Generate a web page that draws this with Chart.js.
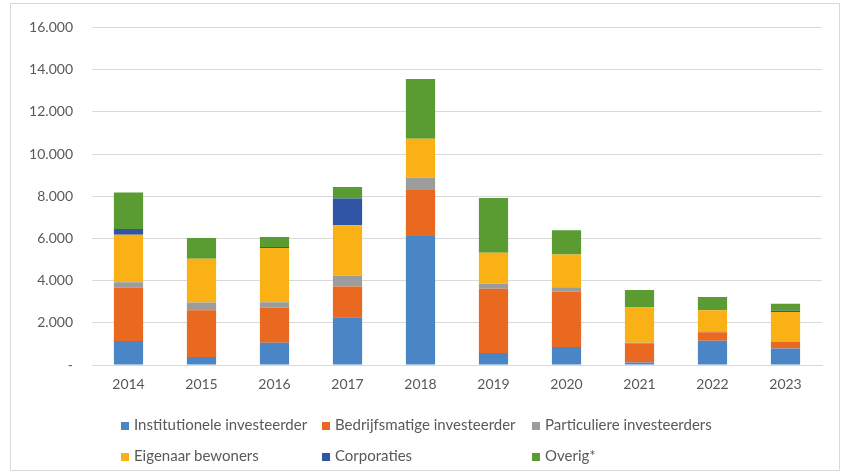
<!DOCTYPE html>
<html>
<head>
<meta charset="utf-8">
<script src="https://cdn.jsdelivr.net/npm/chart.js@4.4.1/dist/chart.umd.min.js"></script>
<style>
  html, body { margin: 0; padding: 0; background: #fff; }
  #wrap { position: relative; width: 844px; height: 474px; overflow: hidden; }
  #frame { position: absolute; left: 10px; top: 3px; width: 830px; height: 468px; border: 1px solid #D9D9D9; box-sizing: border-box; pointer-events: none; }
  canvas { position: absolute; left: 0; top: 0; }
  .lg { position: absolute; font-family: Lato, "Open Sans", sans-serif; font-size: 15px; color: #595959; white-space: nowrap; line-height: 16px; }
  .lg i { display: inline-block; width: 8px; height: 8px; margin-right: 5px; vertical-align: 0px; }
</style>
</head>
<body>
<div id="wrap">
  <canvas id="c" width="844" height="474"></canvas>
  <div id="frame"></div>
  <div id="legend"></div>
</div>
<script>
const years = ['2014','2015','2016','2017','2018','2019','2020','2021','2022','2023'];
const institutioneel = [1140, 380, 1060, 2260, 6110, 570, 850, 120, 1150, 780];
const bedrijfsmatig  = [2530, 2215, 1665, 1460, 2220, 3040, 2620, 870, 400, 320];
const particulier    = [250, 365, 250, 510, 540, 240, 220, 60, 50, 30];
const eigenaar       = [2250, 2080, 2570, 2390, 1850, 1470, 1550, 1670, 1000, 1380];
const corporaties    = [270, 0, 50, 1270, 0, 0, 0, 0, 0, 60];
const overig         = [1730, 980, 470, 550, 2840, 2600, 1150, 835, 620, 330];
const seriesLabels = ['Institutionele investeerder','Bedrijfsmatige investeerder','Particuliere investeerders','Eigenaar bewoners','Corporaties','Overig*'];
const yTicks = [0, 2000, 4000, 6000, 8000, 10000, 12000, 14000, 16000];

const colors = ['#4A86C6','#E8691F','#9C9C9C','#F9B115','#2F55A4','#5A9C32'];
const seriesData = [institutioneel, bedrijfsmatig, particulier, eigenaar, corporaties, overig];

function fmt(v) {
  if (v === 0) return '-';
  return String(v).replace(/\B(?=(\d{3})+(?!\d))/g, '.');
}

const font = { family: 'Lato, "Open Sans", sans-serif', size: 14 };

const chart = new Chart(document.getElementById('c'), {
  type: 'bar',
  data: {
    labels: years,
    datasets: seriesData.map((d, i) => ({
      label: seriesLabels[i],
      data: d,
      backgroundColor: colors[i],
      borderWidth: 0,
      barPercentage: 0.4,
      categoryPercentage: 1.0
    }))
  },
  options: {
    responsive: false,
    animation: false,
    devicePixelRatio: 1,
    layout: { padding: { left: 0, right: 22, top: 25, bottom: 79 } },
    plugins: { legend: { display: false }, tooltip: { enabled: false } },
    scales: {
      x: {
        stacked: true,
        grid: { display: false, drawTicks: false },
        border: { display: true, color: '#D9D9D9', width: 1 },
        ticks: { color: '#595959', font: font, padding: 11, maxRotation: 0 },
        afterFit: s => { s.height = 30; }
      },
      y: {
        stacked: true,
        min: 0, max: 16000,
        afterBuildTicks: s => { s.ticks = yTicks.map(v => ({ value: v })); },
        grid: { color: '#D9D9D9', lineWidth: 1, drawTicks: false },
        border: { display: false },
        ticks: { color: '#595959', font: font, padding: 19, callback: v => fmt(v) },
        afterFit: s => { s.width = 92; }
      }
    }
  }
});

// HTML legend laid out in a 3-column grid like the reference
const colX = [121, 322, 532];
const rowY = [416, 447];
const lg = document.getElementById('legend');
chart.data.datasets.forEach((ds, i) => {
  const el = document.createElement('div');
  el.className = 'lg';
  el.style.left = colX[i % 3] + 'px';
  el.style.top = rowY[Math.floor(i / 3)] + 'px';
  const sw = document.createElement('i');
  sw.style.background = ds.backgroundColor;
  el.appendChild(sw);
  el.appendChild(document.createTextNode(ds.label));
  lg.appendChild(el);
});
</script>
</body>
</html>
